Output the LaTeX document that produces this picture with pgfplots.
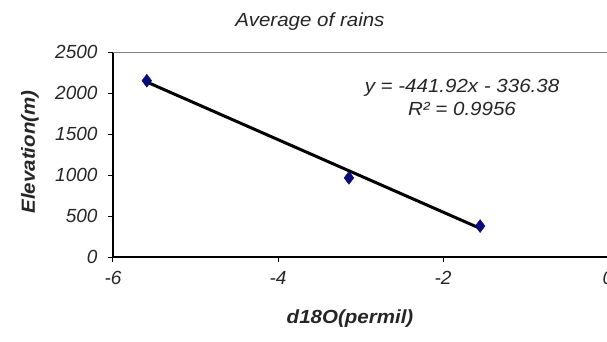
\documentclass[border=0pt]{standalone}
\usepackage{pgfplots}
\pgfplotsset{compat=1.18}
\usepackage{fontspec}
\setmainfont{Liberation Sans}
\newfontfamily\widefont[FakeStretch=1.08]{Liberation Sans}
\definecolor{navy}{RGB}{10,10,120}
\begin{document}
\fontsize{19}{22}\selectfont
\begin{tikzpicture}
\path[use as bounding box] (-113pt,-84pt) rectangle (494pt,257pt);
\begin{axis}[
  at={(0,0)}, anchor=south west,
  scale only axis, width=495pt, height=205pt,
  xmin=-6, xmax=0, ymin=0, ymax=2500,
  xtick={-6,-4,-2,0}, ytick={0,500,1000,1500,2000,2500},
  axis x line*=bottom, axis y line*=left,
  axis line style={-, black},
  x axis line style={line width=2pt},
  y axis line style={line width=1.4pt},
  tick align=outside, major tick length=5pt,
  tick style={black, line width=1pt},
  ticklabel style={font=\itshape, text=black!85},
  /pgf/number format/assume math mode=true,
  /pgf/number format/1000 sep={},
  scaled ticks=false,
  xticklabel style={yshift=-3pt},
  yticklabel style={xshift=-4pt},
]
\addplot[only marks, mark=diamond*, mark size=6.5pt, color=navy] coordinates {(-5.59,2150) (-3.14,965) (-1.55,378)};
\addplot[black, line width=3pt] coordinates {(-5.59,2134) (-1.55,349)};
\draw[gray, line width=1pt] (rel axis cs:0,1) -- (rel axis cs:1,1);
\end{axis}
\node[font=\widefont\itshape, text=black!85] at (197pt,235pt) {Average of rains};
\node[font=\widefont\bfseries\itshape, text=black!85] at (237pt,-62pt) {d18O(permil)};
\node[font=\widefont\bfseries\itshape, text=black!85, rotate=90] at (-83pt,105pt) {Elevation(m)};
\node[font=\widefont\itshape, text=black!85, align=center, inner sep=0pt] at (349pt,160pt) {y = -441.92x - 336.38\\[1pt] R² = 0.9956};
\end{tikzpicture}
\end{document}
